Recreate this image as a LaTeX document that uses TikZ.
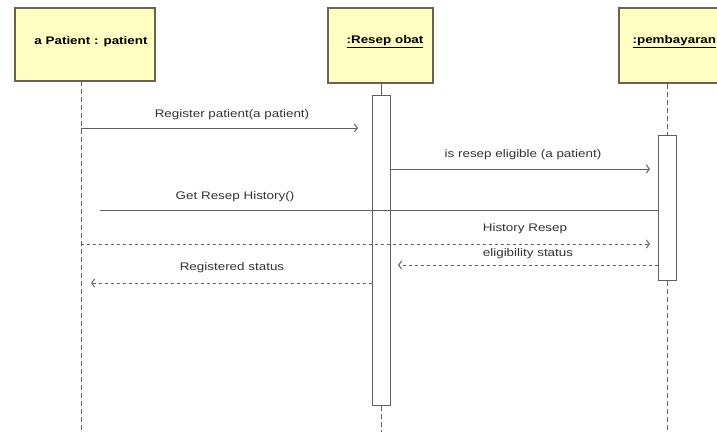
\documentclass[tikz,border=0pt]{standalone}
\usepackage{fontspec}
\setmainfont{Liberation Sans}
\newfontfamily\lblfont[FakeStretch=1.22]{Liberation Sans}
\usetikzlibrary{arrows.meta}
\definecolor{boxfill}{HTML}{FFFFC4}
\definecolor{boxedge}{HTML}{6E6248}
\definecolor{linegray}{HTML}{606060}
\definecolor{textgray}{HTML}{333333}
\begin{document}
\begin{tikzpicture}[x=1pt,y=-1pt,
  obj/.style={draw=boxedge, fill=boxfill, line width=1.2pt, inner sep=0pt,
    font=\lblfont\bfseries\fontsize{11}{13}\selectfont, text=black},
  actbar/.style={draw=linegray, fill=white, line width=1pt, minimum width=18pt, inner sep=0pt},
  life/.style={draw=linegray, line width=1pt, dash pattern=on 5pt off 3pt},
  lifesolid/.style={draw=linegray, line width=1pt},
  call/.style={draw=linegray, line width=1pt, -{Straight Barb[length=3pt,width=8pt,sep=4pt]}},
  plain/.style={draw=linegray, line width=1pt},
  reply/.style={draw=linegray, line width=1pt, dash pattern=on 3pt off 3pt,
    -{Straight Barb[length=3pt,width=8pt,sep=4pt]}},
  lbl/.style={font=\lblfont\fontsize{11}{13}\selectfont, text=textgray, inner sep=0pt}
]
\useasboundingbox (0,0) rectangle (717,432);
\clip (0,0) rectangle (717,432);

% object boxes
\node[obj, minimum width=140pt, minimum height=73pt] (patient) at (85,44.5) {};
\node[obj, minimum width=105pt, minimum height=75pt] (resep) at (380.5,45.5) {};
\node[obj, minimum width=106pt, minimum height=75pt] (bayar) at (672,45.5) {};
\node[obj, draw=none, fill=none] (patientname) at (91,42) {a Patient : patient};
\node[obj, draw=none, fill=none, anchor=west] (resepname) at (346,42) {\underline{:Resep obat}};
\node[obj, draw=none, fill=none, anchor=west] (bayarname) at (632,42) {\underline{:pembayaran}};

% activation bars
\node[actbar, minimum height=310pt] (actR) at (381,250) {};
\node[actbar, minimum height=145pt] (actP) at (667,207.5) {};

% lifelines
\coordinate (pBot) at (81,432);
\coordinate (pTop) at (81,81);
\draw[life] (pTop) -- (pBot);
\draw[lifesolid] (actR.north |- resep.south) -- (actR.north);
\coordinate (rBot) at (381,432);
\draw[life] (actR.south) -- (rBot);
\draw[life] (actP.north |- bayar.south) -- (actP.north);
\coordinate (bBot) at (667,432);
\draw[life] (actP.south) -- (bBot);

% messages
\coordinate (m1s) at (81,128);   \coordinate (m1e) at (362,128);
\draw[call] (m1s) -- (m1e);
\node[lbl] (l1) at (232,115) {Register patient(a patient)};

\coordinate (m2e) at (654,169);
\draw[call] (actR.east |- m2e) -- (m2e);
\node[lbl] (l2) at (523,155) {is resep eligible (a patient)};

\coordinate (m3s) at (100,210);
\draw[plain] (m3s) -- (actP.west |- m3s);
\node[lbl] (l3) at (235,197) {Get Resep History()};

\coordinate (m4s) at (81,244);   \coordinate (m4e) at (654,244);
\draw[reply] (m4s) -- (m4e);
\node[lbl] (l4) at (525,229) {History Resep};

\coordinate (m5e) at (394,265);
\draw[reply] (actP.west |- m5e) -- (m5e);
\node[lbl] (l5) at (528,254) {eligibility status};

\coordinate (m6e) at (87,283);
\draw[reply] (actR.west |- m6e) -- (m6e);
\node[lbl] (l6) at (232,268) {Registered status};
\end{tikzpicture}
\end{document}
